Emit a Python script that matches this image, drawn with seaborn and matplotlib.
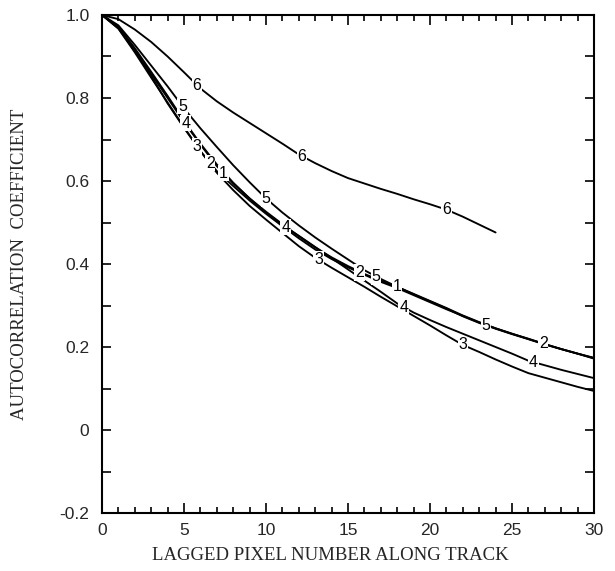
import numpy as np
import pandas as pd
import matplotlib
matplotlib.use("Agg")
import matplotlib.pyplot as plt
import seaborn as sns
from matplotlib.ticker import MultipleLocator, FixedLocator

# ---- data ----
lag = list(range(0, 31))
lag6 = list(range(0, 25))

curve1 = [1.000, 0.970, 0.917, 0.858, 0.800, 0.742, 0.688, 0.636, 0.594, 0.558,
          0.526, 0.496, 0.467, 0.440, 0.416, 0.395, 0.376, 0.360, 0.345, 0.328,
          0.311, 0.294, 0.276, 0.260, 0.245, 0.232, 0.220, 0.207, 0.195, 0.184, 0.172]
curve2 = [1.000, 0.968, 0.913, 0.853, 0.787, 0.728, 0.672, 0.624, 0.588, 0.553,
          0.521, 0.491, 0.462, 0.435, 0.412, 0.392, 0.374, 0.357, 0.342, 0.325,
          0.308, 0.291, 0.275, 0.259, 0.245, 0.232, 0.219, 0.206, 0.195, 0.184, 0.174]
curve3 = [1.000, 0.967, 0.910, 0.849, 0.789, 0.730, 0.672, 0.620, 0.578, 0.540,
          0.507, 0.475, 0.443, 0.415, 0.391, 0.368, 0.345, 0.321, 0.298, 0.275,
          0.252, 0.228, 0.205, 0.188, 0.170, 0.153, 0.137, 0.126, 0.115, 0.104, 0.094]
curve4 = [1.000, 0.972, 0.920, 0.863, 0.805, 0.745, 0.690, 0.640, 0.596, 0.558,
          0.524, 0.494, 0.468, 0.441, 0.414, 0.387, 0.360, 0.333, 0.305, 0.283,
          0.265, 0.248, 0.232, 0.216, 0.200, 0.184, 0.167, 0.156, 0.145, 0.135, 0.125]
curve5 = [1.000, 0.975, 0.928, 0.878, 0.828, 0.775, 0.727, 0.682, 0.638, 0.597,
          0.558, 0.524, 0.493, 0.464, 0.437, 0.411, 0.385, 0.364, 0.345, 0.327,
          0.310, 0.293, 0.274, 0.258, 0.244, 0.231, 0.219, 0.207, 0.195, 0.184, 0.173]
curve6 = [1.000, 0.990, 0.965, 0.935, 0.900, 0.862, 0.823, 0.792, 0.765, 0.740,
          0.715, 0.690, 0.664, 0.643, 0.624, 0.607, 0.594, 0.581, 0.569, 0.556,
          0.544, 0.531, 0.514, 0.495, 0.476]

# inline label x-locations for each curve
label_x = {
    "1": [7.4, 18.0],
    "2": [6.6, 15.7, 26.9],
    "3": [5.8, 13.2, 22.0],
    "4": [5.1, 11.2, 18.4, 26.3],
    "5": [4.9, 10.0, 16.7, 23.4],
    "6": [5.8, 12.2, 21.0],
}

xticks = [0, 5, 10, 15, 20, 25, 30]
yticks = [-0.2, 0, 0.2, 0.4, 0.6, 0.8, 1.0]
ytick_labels = ["-0.2", "0", "0.2", "0.4", "0.6", "0.8", "1.0"]

# ---- build table ----
frames = []
for name, xs, ys in [("1", lag, curve1), ("2", lag, curve2), ("3", lag, curve3),
                     ("4", lag, curve4), ("5", lag, curve5), ("6", lag6, curve6)]:
    frames.append(pd.DataFrame({"lag": xs, "r": ys, "curve": name}))
df = pd.concat(frames, ignore_index=True)
series = {n: g for n, g in df.groupby("curve")}

sns.set_theme(style="ticks")
plt.rcParams["font.family"] = ["Liberation Sans", "DejaVu Sans"]

fig = plt.figure(figsize=(6.15, 5.71), dpi=100)
ax = fig.add_axes([102 / 615, 1 - 513 / 571, (594 - 102) / 615, (513 - 15) / 571])

sns.lineplot(data=df, x="lag", y="r", hue="curve",
             palette={k: "black" for k in label_x}, linewidth=1.35,
             legend=False, ax=ax, sort=True)

# inline labels sitting on the curves (line broken behind them)
for name, xs in label_x.items():
    g = series[name]
    for xv in xs:
        yv = np.interp(xv, g["lag"].values, g["r"].values)
        ax.text(xv, yv, name, ha="center", va="center", fontsize=11.5,
                color="black", zorder=5,
                bbox=dict(boxstyle="square,pad=0.05", fc="white", ec="none"))

ax.set_xlim(0, 30)
ax.set_ylim(-0.2, 1.0)
ax.xaxis.set_major_locator(FixedLocator(xticks))
ax.xaxis.set_minor_locator(MultipleLocator(1))
ax.yaxis.set_major_locator(FixedLocator(yticks))
ax.yaxis.set_minor_locator(MultipleLocator(0.1))
ax.set_xticklabels([str(t) for t in xticks])
ax.set_yticklabels(ytick_labels)

ax.tick_params(axis="both", which="both", direction="in", top=True, right=True,
               color="black", width=1.2)
ax.tick_params(axis="x", which="major", length=7.2, pad=7, labelsize=12.5)
ax.tick_params(axis="x", which="minor", length=4.3)
ax.tick_params(axis="y", which="major", length=6.5, pad=9, labelsize=12.5)
ax.tick_params(axis="y", which="minor", length=6.5)

for s in ax.spines.values():
    s.set_visible(True)
    s.set_linewidth(1.5)
    s.set_color("black")

ax.set_xlabel("LAGGED PIXEL NUMBER ALONG TRACK", family=["Liberation Serif", "DejaVu Serif"],
              fontsize=13.5)
ax.xaxis.set_label_coords(0.465, -0.068)
ax.set_ylabel("AUTOCORRELATION  COEFFICIENT", family=["Liberation Serif", "DejaVu Serif"],
              fontsize=13.5, labelpad=23)

fig.savefig("out.png", dpi=100, facecolor="white")
